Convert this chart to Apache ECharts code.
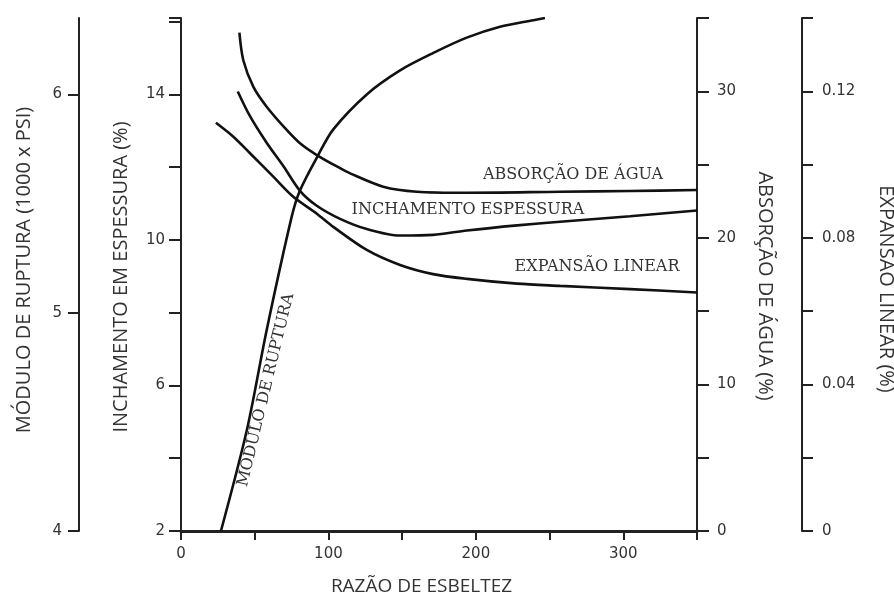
<!DOCTYPE html>
<html><head><meta charset="utf-8">
<script src="https://cdn.jsdelivr.net/npm/echarts@6/dist/echarts.min.js"></script>
<style>html,body{margin:0;padding:0;background:#fff}#c{width:894px;height:604px}</style>
</head><body><div id="c"></div>
<script>
// Razão de esbeltez (x) and values for each curve
const xRuptura = [27.1, 44.6, 58.1, 75.1, 80.7, 92.9, 103.3, 126.0, 148.6, 171.2, 193.8, 216.4, 239.0, 246.9];
const ruptura  = [4.00, 4.46, 4.92, 5.44, 5.56, 5.72, 5.84, 6.00, 6.11, 6.19, 6.26, 6.31, 6.34, 6.35];

const xInchamento = [38.5, 46.8, 58.1, 69.4, 80.7, 92.1, 107.9, 126.0, 148.6, 171.0, 194.0, 228.0, 257.1, 304.6, 350];
const inchamento  = [14.08, 13.40, 12.67, 12.03, 11.35, 10.94, 10.58, 10.30, 10.12, 10.14, 10.26, 10.40, 10.50, 10.65, 10.81];

const xAbsorcao = [39.6, 42.3, 49.1, 58.1, 71.7, 80.7, 92.1, 107.9, 114.7, 137.2, 159.9, 193.8, 257.1, 304.6, 350];
const absorcao  = [34.0, 32.1, 30.3, 28.95, 27.36, 26.45, 25.65, 24.75, 24.40, 23.49, 23.15, 23.08, 23.15, 23.20, 23.26];

const xExpansao = [23.7, 35.5, 46.8, 62.6, 76.2, 92.1, 103.3, 126.0, 148.6, 171.0, 194.0, 228.0, 257.1, 304.6, 350];
const expansao  = [0.1114, 0.1076, 0.1031, 0.0967, 0.0912, 0.0866, 0.0830, 0.0767, 0.0726, 0.0701, 0.0688, 0.0675, 0.0669, 0.0660, 0.0651];

const xTickLabels = [0, 100, 200, 300];
const inchamentoLabels = [2, 6, 10, 14];
const absorcaoLabels = [0, 10, 20, 30];
const expansaoLabels = [0, 0.04, 0.08, 0.12];
const rupturaTicks = [4, 5, 6];

const pairs = (xs, ys) => xs.map((x, i) => [x, ys[i]]);
const near = (v, list) => list.some(t => Math.abs(t - v) < 1e-6);

const INK = '#222', TXT = '#333';
const tickFont = { fontFamily: 'DejaVu Sans', fontSize: 15, color: TXT };
const nameFont = { fontFamily: 'Open Sans', fontSize: 20, color: TXT };
const serif = { fontFamily: 'DejaVu Serif', fontSize: 16, fill: TXT };

const chart = echarts.init(document.getElementById('c'), null, { renderer: 'canvas' });
const lineStyle = { color: '#111', width: 2.6 };
function lineSeries(name, yi, xs, ys) {
  return { name, type: 'line', yAxisIndex: yi, data: pairs(xs, ys), showSymbol: false, symbol: 'none',
           smooth: 0.3, lineStyle, itemStyle: { color: '#111' }, clip: true };
}

chart.setOption({
  animation: false,
  backgroundColor: '#fff',
  grid: { left: 181, right: 197, top: 18, bottom: 73, containLabel: false, outerBoundsMode: 'none' },
  xAxis: [{
    type: 'value', min: 0, max: 350, interval: 50, position: 'bottom',
    name: 'RAZÃO DE ESBELTEZ', nameLocation: 'middle', nameGap: 46,
    nameTextStyle: Object.assign({}, nameFont, { fontSize: 19, padding: [0, 35, 0, 0] }),
    axisLine: { show: true, lineStyle: { color: INK, width: 2 } },
    axisTick: { show: true, inside: false, length: 9, lineStyle: { color: INK, width: 2 } },
    axisLabel: Object.assign({}, tickFont, { margin: 16, formatter: v => near(v, xTickLabels) ? String(v) : '' }),
    splitLine: { show: false }
  }, {
    type: 'value', min: 0, max: 350, position: 'top',
    axisLine: { show: true, lineStyle: { color: INK, width: 3 } },
    axisTick: { show: false }, axisLabel: { show: false }, splitLine: { show: false }
  }],
  yAxis: [{
    type: 'value', min: 2, max: 16.1, interval: 2, position: 'left', offset: 0,
    name: 'INCHAMENTO EM ESPESSURA (%)', nameLocation: 'middle', nameGap: 50, nameRotate: 90,
    nameTextStyle: Object.assign({}, nameFont, { padding: [0, 5, 0, 0] }),
    axisLine: { show: true, onZero: false, lineStyle: { color: INK, width: 2 } },
    axisTick: { show: true, length: 12, lineStyle: { color: INK, width: 2 } },
    axisLabel: Object.assign({}, tickFont, { margin: 16, formatter: v => near(v, inchamentoLabels) ? String(v) : '' }),
    splitLine: { show: false }
  }, {
    type: 'value', min: 4, max: 6.35, interval: 1, position: 'left', offset: 102,
    name: 'MÓDULO DE RUPTURA (1000 x PSI)', nameLocation: 'middle', nameGap: 45, nameRotate: 90,
    nameTextStyle: Object.assign({}, nameFont, { padding: [0, 0, 0, 9] }),
    axisLine: { show: true, onZero: false, lineStyle: { color: INK, width: 2 } },
    axisTick: { show: true, length: 11, customValues: rupturaTicks, lineStyle: { color: INK, width: 2 } },
    axisLabel: Object.assign({}, tickFont, { margin: 17, customValues: rupturaTicks, formatter: v => near(v, rupturaTicks) ? String(v) : '' }),
    splitLine: { show: false }
  }, {
    type: 'value', min: 0, max: 35, interval: 5, position: 'right', offset: 0,
    name: 'ABSORÇÃO DE ÁGUA (%)', nameLocation: 'middle', nameGap: 58, nameRotate: -90,
    nameTextStyle: Object.assign({}, nameFont, { padding: [0, 0, 0, 23] }),
    axisLine: { show: true, onZero: false, lineStyle: { color: INK, width: 2 } },
    axisTick: { show: true, length: 12, lineStyle: { color: INK, width: 2 } },
    axisLabel: Object.assign({}, tickFont, { margin: 20, formatter: v => near(v, absorcaoLabels) ? String(v) : '' }),
    splitLine: { show: false }
  }, {
    type: 'value', min: 0, max: 0.14, interval: 0.02, position: 'right', offset: 105,
    name: 'EXPANSÃO LINEAR (%)', nameLocation: 'middle', nameGap: 74, nameRotate: -90,
    nameTextStyle: Object.assign({}, nameFont, { padding: [0, 0, 0, 29] }),
    axisLine: { show: true, onZero: false, lineStyle: { color: INK, width: 2 } },
    axisTick: { show: true, length: 11, lineStyle: { color: INK, width: 2 } },
    axisLabel: Object.assign({}, tickFont, { margin: 20, formatter: v => near(v, expansaoLabels) ? (v === 0 ? '0' : v.toFixed(2)) : '' }),
    splitLine: { show: false }
  }],
  series: [
    lineSeries('Inchamento em espessura', 0, xInchamento, inchamento),
    lineSeries('Módulo de ruptura', 1, xRuptura, ruptura),
    lineSeries('Absorção de água', 2, xAbsorcao, absorcao),
    lineSeries('Expansão linear', 3, xExpansao, expansao)
  ],
  graphic: [
    { type: 'text', x: 573, y: 175, style: Object.assign({ text: 'ABSORÇÃO DE ÁGUA', align: 'center', verticalAlign: 'middle' }, serif) },
    { type: 'text', x: 468, y: 210, style: Object.assign({ text: 'INCHAMENTO ESPESSURA', align: 'center', verticalAlign: 'middle' }, serif) },
    { type: 'text', x: 597, y: 267, style: Object.assign({ text: 'EXPANSÃO LINEAR', align: 'center', verticalAlign: 'middle' }, serif) },
    { type: 'text', x: 266, y: 390, rotation: 76.4 * Math.PI / 180,
      style: Object.assign({ text: 'MÓDULO DE RUPTURA', align: 'center', verticalAlign: 'middle' }, serif) }
  ]
});
</script>
</body></html>
